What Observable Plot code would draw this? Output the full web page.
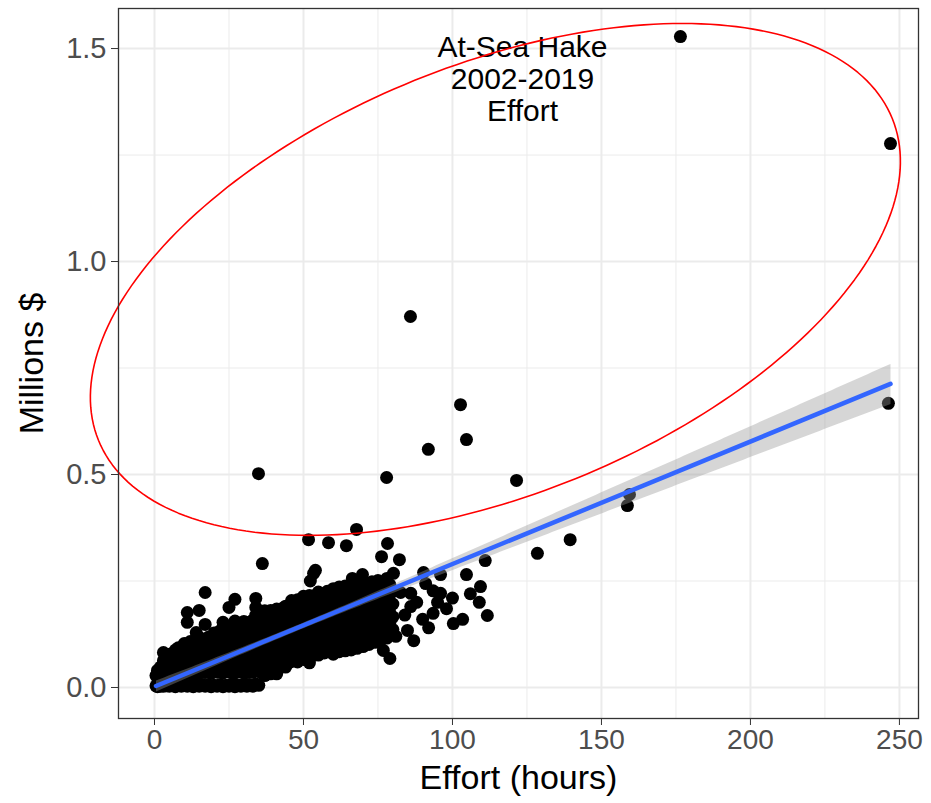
<!DOCTYPE html>
<html><head><meta charset="utf-8">
<script src="https://cdn.jsdelivr.net/npm/d3@7"></script>
<script src="https://cdn.jsdelivr.net/npm/@observablehq/plot@0.6"></script>
<style>
body{margin:0;background:#fff;}
#chart svg{display:block;}
</style>
</head><body><div id="chart"></div>
<script>
// ---- data ----
const xTicks = [0, 50, 100, 150, 200, 250];
const xMinor = [25, 75, 125, 175, 225];
const yTicks = [0, 0.5, 1.0, 1.5];
const yMinor = [0.25, 0.75, 1.25];

// sparse / outlying trips [effort hours, millions $]
const outliers = [
  [176.5,1.528],[247,1.277],[85.9,0.871],[102.7,0.664],[104.7,0.582],[91.9,0.559],
  [34.9,0.502],[77.9,0.493],[121.5,0.486],[246.3,0.667],[159.4,0.453],[158.7,0.427],
  [139.5,0.347],[128.5,0.315],[111,0.298],[104.7,0.265],[109.4,0.237],[109,0.2],
  [111.7,0.169],[67.8,0.371],[51.7,0.347],[58.4,0.34],[64.4,0.333],[78.2,0.338],
  [76.2,0.307],[82.2,0.30],[36.2,0.291],[54,0.275],[53.4,0.268],[52.3,0.25],
  [66.4,0.256],[69.8,0.265],[80.2,0.268],[90.3,0.27],[96,0.265],[61.4,0.223],
  [67.8,0.221],[78.2,0.242],[82.6,0.223],[86,0.221],[91,0.244],[93.5,0.227],
  [96,0.221],[103.4,0.16],[100.3,0.15],[93.5,0.174],[86,0.19],[84.9,0.134],
  [76.8,0.087],[79,0.068],[88,0.2],[84,0.17],[90,0.16],[95,0.2],[98,0.185],
  [100,0.21],[106,0.22],[92,0.14],[87,0.11],[81,0.12]
];

// dense cloud: for each effort value, the revenues of the trips stacked there
const cloudColumns = [
  [0.5,[0.004,0.028]],[1,[0.002,0.026,0.04]],[2,[0.003,0.033,0.048]],
  [3,[0.003,0.028,0.046,0.063,0.082]],[4,[0.004,0.038,0.056,0.073]],
  [5,[0.003,0.03,0.048,0.066,0.078]],[6,[0.005,0.041,0.058,0.076]],
  [7,[0.002,0.033,0.053,0.07,0.088]],[8,[0.006,0.038,0.06,0.08,0.093]],
  [9,[0.003,0.032,0.05,0.068,0.086]],[10,[0.006,0.043,0.063,0.083,0.103]],
  [11,[0.003,0.033,0.053,0.076,0.096,0.153,0.176]],[12,[0.005,0.042,0.064,0.086,0.108]],
  [13,[0.002,0.03,0.052,0.074,0.098]],[14,[0.006,0.044,0.066,0.088,0.108,0.129]],
  [15,[0.003,0.034,0.056,0.078,0.1,0.118,0.181]],[16,[0.007,0.046,0.068,0.09,0.112]],
  [17,[0.003,0.035,0.057,0.079,0.101,0.148,0.223]],[18,[0.006,0.044,0.066,0.088,0.11,0.118]],
  [19,[0.002,0.033,0.055,0.077,0.099]],[20,[0.005,0.042,0.064,0.086,0.108,0.128]],
  [21,[0.003,0.036,0.058,0.08,0.102,0.123]],[22,[0.007,0.045,0.067,0.089,0.111,0.133]],
  [23,[0.002,0.034,0.056,0.078,0.1,0.122,0.153]],[24,[0.005,0.042,0.064,0.086,0.108,0.13]],
  [25,[0.003,0.036,0.058,0.08,0.102,0.124,0.143,0.188]],[26,[0.008,0.045,0.067,0.089,0.111,0.133]],
  [27,[0.002,0.034,0.056,0.078,0.1,0.122,0.146,0.156,0.207]],[28,[0.006,0.042,0.064,0.086,0.108,0.13,0.148]],
  [29,[0.003,0.036,0.058,0.08,0.102,0.124,0.143]],[30,[0.008,0.045,0.067,0.089,0.111,0.133,0.155]],
  [31,[0.003,0.035,0.057,0.079,0.101,0.123,0.145]],[32,[0.007,0.043,0.065,0.087,0.109,0.131,0.153]],
  [33,[0.003,0.036,0.058,0.08,0.102,0.124,0.146,0.158]],
  [34,[0.008,0.045,0.067,0.089,0.111,0.133,0.155,0.17,0.188,0.209]],
  [35,[0.005,0.038,0.06,0.082,0.104,0.126,0.148,0.168]],
  [36,[0.034,0.056,0.078,0.1,0.122,0.144,0.166]],[37,[0.028,0.05,0.072,0.094,0.116,0.138,0.16,0.18]],
  [38,[0.038,0.06,0.082,0.104,0.126,0.148,0.17]],[39,[0.032,0.054,0.076,0.098,0.12,0.142,0.164,0.181]],
  [40,[0.044,0.066,0.088,0.11,0.132,0.154,0.176]],[41,[0.032,0.052,0.074,0.096,0.118,0.14,0.162,0.184]],
  [42,[0.046,0.068,0.09,0.112,0.134,0.156,0.178]],[43,[0.054,0.076,0.098,0.12,0.142,0.164,0.186]],
  [44,[0.048,0.07,0.092,0.114,0.136,0.158,0.18,0.191]],[45,[0.058,0.08,0.102,0.124,0.146,0.168,0.19]],
  [46,[0.061,0.083,0.105,0.127,0.149,0.171,0.193,0.204]],[47,[0.066,0.088,0.11,0.132,0.154,0.176,0.198]],
  [48,[0.06,0.082,0.104,0.126,0.148,0.17,0.192,0.206]],[49,[0.071,0.093,0.115,0.137,0.159,0.181,0.203]],
  [50,[0.066,0.088,0.11,0.132,0.154,0.176,0.198,0.214]],[51,[0.076,0.098,0.12,0.142,0.164,0.186,0.208]],
  [52,[0.058,0.082,0.104,0.126,0.148,0.17,0.192,0.216]],[53,[0.074,0.096,0.118,0.14,0.162,0.184,0.206]],
  [54,[0.086,0.108,0.13,0.152,0.174,0.196,0.216]],[55,[0.076,0.098,0.12,0.142,0.164,0.186,0.208,0.224]],
  [56,[0.088,0.11,0.132,0.154,0.176,0.198,0.22]],[57,[0.081,0.103,0.125,0.147,0.169,0.191,0.213]],
  [58,[0.094,0.116,0.138,0.16,0.182,0.204,0.226]],[59,[0.084,0.106,0.128,0.15,0.172,0.194,0.216]],
  [60,[0.078,0.1,0.122,0.144,0.166,0.188,0.21,0.232]],[61,[0.091,0.113,0.135,0.157,0.179,0.201,0.223]],
  [62,[0.084,0.106,0.128,0.15,0.172,0.194,0.216,0.236]],[63,[0.096,0.118,0.14,0.162,0.184,0.206,0.228]],
  [64,[0.086,0.108,0.13,0.152,0.174,0.196,0.218,0.238]],[65,[0.101,0.123,0.145,0.167,0.189,0.211,0.233]],
  [66,[0.088,0.11,0.132,0.154,0.176,0.198,0.22,0.242]],[67,[0.104,0.126,0.148,0.17,0.192,0.214,0.236]],
  [68,[0.092,0.114,0.136,0.158,0.18,0.202,0.224,0.246]],[69,[0.106,0.128,0.15,0.172,0.194,0.216,0.238]],
  [70,[0.096,0.118,0.14,0.162,0.184,0.206,0.228,0.248]],[71,[0.11,0.132,0.154,0.176,0.198,0.22,0.242]],
  [72,[0.101,0.123,0.145,0.167,0.189,0.211,0.233]],[73,[0.116,0.138,0.16,0.182,0.204,0.226,0.248]],
  [74,[0.106,0.128,0.15,0.172,0.194,0.216,0.238]],[75,[0.121,0.143,0.165,0.187,0.209,0.231,0.251]],
  [76,[0.111,0.133,0.155,0.177,0.199,0.221,0.243]],[77,[0.126,0.148,0.17,0.192,0.214,0.236]],
  [78,[0.116,0.138,0.16,0.182,0.204,0.226,0.256]],[79,[0.131,0.153,0.175,0.197,0.219,0.241]],
  [80,[0.136,0.166,0.196,0.226]]
];

const annotationLines = ["At-Sea Hake", "2002-2019", "Effort"];
const annotationAt = {x: 123.5, y: 1.43};

// hand-drawn ellipse around the high-value trips (centre + conjugate semi-axes, data units)
const ellipseCenter = [114.4, 0.958];
const ellipseAxisU = [133.2, 0.3777];
const ellipseAxisV = [-27.08, 0.4673];

const xLabel = "Effort (hours)";
const yLabel = "Millions $";

// ---- build ----
const points = outliers.map(([x, y]) => ({x, y}))
  .concat(cloudColumns.flatMap(([x, ys]) => ys.map(y => ({x, y}))));

const ellipse = d3.range(0, 241).map(i => {
  const t = i / 240 * 2 * Math.PI;
  return {
    x: ellipseCenter[0] + ellipseAxisU[0] * Math.cos(t) + ellipseAxisV[0] * Math.sin(t),
    y: ellipseCenter[1] + ellipseAxisU[1] * Math.cos(t) + ellipseAxisV[1] * Math.sin(t)
  };
});

const FONT = "Liberation Sans, Arial, Helvetica, sans-serif";

const chart = Plot.plot({
  width: 931,
  height: 803,
  marginLeft: 118,
  marginRight: 13,
  marginTop: 8,
  marginBottom: 85,
  style: {fontFamily: FONT, background: "#fff"},
  x: {domain: [-12.08, 256.4]},
  y: {domain: [-0.0728, 1.594]},
  marks: [
    Plot.gridX(xMinor, {stroke: "#ebebeb", strokeOpacity: 1, strokeWidth: 1}),
    Plot.gridY(yMinor, {stroke: "#ebebeb", strokeOpacity: 1, strokeWidth: 1}),
    Plot.gridX(xTicks, {stroke: "#ebebeb", strokeOpacity: 1, strokeWidth: 2}),
    Plot.gridY(yTicks, {stroke: "#ebebeb", strokeOpacity: 1, strokeWidth: 2}),
    Plot.dot(points, {x: "x", y: "y", r: 6.5, fill: "black", stroke: null}),
    Plot.linearRegressionY(points, {x: "x", y: "y", stroke: "#3366FF", strokeWidth: 4.5, fill: "#999999", fillOpacity: 0.4}),
    Plot.text([annotationLines.join("\n")], {x: () => annotationAt.x, y: () => annotationAt.y, fontSize: 30, lineHeight: 1.07, fill: "black", textAnchor: "middle"}),
    Plot.line(ellipse, {x: "x", y: "y", stroke: "red", strokeWidth: 1.6}),
    Plot.frame({stroke: "#333333", strokeWidth: 1.3}),
    Plot.axisX(xTicks, {tickSize: 7, tickPadding: 4, fontSize: 28, color: "#4d4d4d", stroke: "#333333", label: null}),
    Plot.axisY(yTicks, {tickSize: 7, tickPadding: 5, fontSize: 29, color: "#4d4d4d", stroke: "#333333", label: null, tickFormat: d3.format(".1f")}),
    Plot.text([xLabel], {frameAnchor: "bottom", lineAnchor: "middle", dy: 60, fontSize: 34, fill: "black", textAnchor: "middle"}),
    Plot.text([yLabel], {frameAnchor: "left", lineAnchor: "middle", dx: -86, rotate: -90, fontSize: 34, fill: "black", textAnchor: "middle"})
  ]
});
document.getElementById("chart").append(chart);
</script>
</body></html>
